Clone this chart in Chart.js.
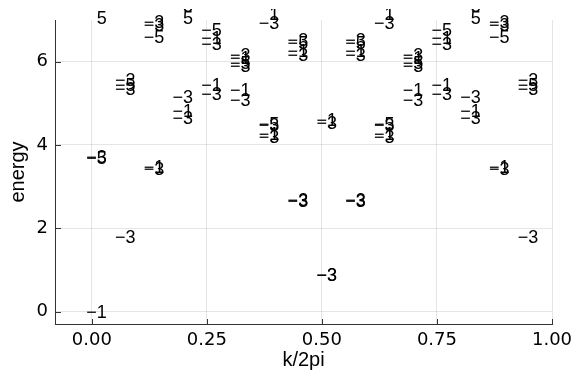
<!DOCTYPE html>
<html>
<head>
<meta charset="utf-8">
<script src="https://cdn.jsdelivr.net/npm/chart.js@4.4.1/dist/chart.umd.min.js"></script>
<style>
  html, body { margin: 0; padding: 0; background: #fff; }
  #wrap { width: 574px; height: 379px; position: relative; }
</style>
</head>
<body>
<div id="wrap"><canvas id="bands"></canvas></div>
<script>
// k-points along the path (k/2pi)
const kGrid = [0, 0.0625, 0.125, 0.1875, 0.25, 0.3125, 0.375, 0.4375,
               0.5, 0.5625, 0.625, 0.6875, 0.75, 0.8125, 0.875, 0.9375];

// energies of the labelled levels at each k-point
const levelEnergies = [
    [7.06, 3.71, 3.69, 0.0],
    [5.56, 5.46, 5.36, 1.79],
    [6.96, 6.89, 6.60, 3.47, 3.43],
    [7.35, 7.06, 5.16, 4.82, 4.65],
    [6.76, 6.58, 6.44, 5.44, 5.24],
    [6.17, 6.09, 5.97, 5.90, 5.33, 5.09],
    [7.16, 6.95, 4.52, 4.50, 4.28, 4.20],
    [6.54, 6.46, 6.26, 6.18, 2.69, 2.67],
    [4.60, 4.54, 0.89, 0.88],
    [6.54, 6.46, 6.26, 6.18, 2.69, 2.67],
    [7.16, 6.95, 4.52, 4.50, 4.28, 4.20],
    [6.17, 6.09, 5.97, 5.90, 5.33, 5.09],
    [6.76, 6.58, 6.44, 5.44, 5.24],
    [7.35, 7.06, 5.16, 4.82, 4.65],
    [6.96, 6.89, 6.60, 3.47, 3.43],
    [5.56, 5.46, 5.36, 1.79]
];

// label printed at each level
const levelTags = [
    ['5', '−3', '−5', '−1'],
    ['−3', '−5', '−3', '−3'],
    ['−3', '−3', '−5', '−1', '−3'],
    ['3', '5', '−3', '−1', '−3'],
    ['−5', '−1', '−3', '−1', '−3'],
    ['−3', '−1', '−5', '−3', '−1', '−3'],
    ['1', '−3', '−5', '−3', '−1', '−3'],
    ['−3', '−5', '−1', '−3', '−3', '−3'],
    ['−1', '−3', '−3', '−3'],
    ['−3', '−5', '−1', '−3', '−3', '−3'],
    ['1', '−3', '−5', '−3', '−1', '−3'],
    ['−3', '−1', '−5', '−3', '−1', '−3'],
    ['−5', '−1', '−3', '−1', '−3'],
    ['3', '5', '−3', '−1', '−3'],
    ['−3', '−3', '−5', '−1', '−3'],
    ['−3', '−5', '−3', '−3']
];

const kTicks = [0, 0.25, 0.5, 0.75, 1.0];
const energyTicks = [0, 2, 4, 6];

const points = [];
const tags = [];
kGrid.forEach((k, i) => {
    levelEnergies[i].forEach((e, j) => {
        points.push({ x: k, y: e });
        tags.push(levelTags[i][j]);
    });
});

const FONT = '"Liberation Sans", Arial, Helvetica, sans-serif';
const TICK_FONT = '"DejaVu Sans", Verdana, sans-serif';
const AXIS = '#333';

// write the label of every level next to its (invisible) point
const tagPlugin = {
    id: 'levelTags',
    afterDatasetsDraw(chart) {
        const meta = chart.getDatasetMeta(0);
        const ctx = chart.ctx;
        ctx.save();
        ctx.beginPath();
        ctx.rect(0, 9, chart.width, chart.height - 9);
        ctx.clip();
        ctx.font = '18px ' + FONT;
        ctx.fillStyle = '#000';
        ctx.textAlign = 'right';
        ctx.textBaseline = 'middle';
        meta.data.forEach((pt, i) => {
            ctx.fillText(tags[i], pt.x + 15, pt.y + 1.5);
        });
        ctx.restore();
    }
};

// short tick marks pointing into the plot
const innerTicks = {
    id: 'innerTicks',
    afterDraw(chart) {
        const { ctx, chartArea: a, scales: { x, y } } = chart;
        ctx.save();
        ctx.strokeStyle = AXIS;
        ctx.lineWidth = 1;
        ctx.beginPath();
        x.ticks.forEach(t => {
            const px = Math.round(x.getPixelForValue(t.value)) + 0.5;
            ctx.moveTo(px, a.bottom);
            ctx.lineTo(px, a.bottom - 5);
        });
        y.ticks.forEach(t => {
            const py = Math.round(y.getPixelForValue(t.value)) + 0.5;
            ctx.moveTo(a.left, py);
            ctx.lineTo(a.left + 6, py);
        });
        ctx.stroke();
        ctx.restore();
    }
};

new Chart(document.getElementById('bands'), {
    type: 'scatter',
    data: {
        datasets: [{
            data: points,
            pointRadius: 0,
            pointHoverRadius: 0,
            showLine: false
        }]
    },
    options: {
        responsive: true,
        maintainAspectRatio: false,
        animation: false,
        devicePixelRatio: 1,
        layout: { padding: { left: 0, top: 20, right: 22, bottom: 0 } },
        plugins: { legend: { display: false }, tooltip: { enabled: false } },
        scales: {
            x: {
                type: 'linear',
                min: -0.08,
                max: 1.0,
                afterBuildTicks: s => { s.ticks = kTicks.map(v => ({ value: v })); },
                afterFit: s => { s.height = 55; s.paddingLeft = 0; s.paddingRight = 0; },
                ticks: {
                    callback: v => Number(v).toFixed(2),
                    font: { family: TICK_FONT, size: 18 },
                    color: '#000',
                    padding: 6,
                    maxRotation: 0
                },
                grid: { color: 'rgba(0,0,0,0.1)', drawTicks: false },
                border: { color: AXIS },
                title: {
                    display: true,
                    text: 'k/2pi',
                    font: { family: FONT, size: 20 },
                    color: '#000',
                    padding: { top: 0, bottom: 7 }
                }
            },
            y: {
                type: 'linear',
                min: -0.3,
                max: 7.0,
                afterBuildTicks: s => { s.ticks = energyTicks.map(v => ({ value: v })); },
                afterFit: s => { s.width = 55; s.paddingTop = 0; s.paddingBottom = 0; },
                ticks: {
                    font: { family: TICK_FONT, size: 18 },
                    color: '#000',
                    padding: 7
                },
                grid: { color: 'rgba(0,0,0,0.1)', drawTicks: false },
                border: { color: AXIS },
                title: {
                    display: true,
                    text: 'energy',
                    font: { family: FONT, size: 20 },
                    color: '#000',
                    padding: { top: 6, bottom: 0 }
                }
            }
        }
    },
    plugins: [tagPlugin, innerTicks]
});
</script>
</body>
</html>
